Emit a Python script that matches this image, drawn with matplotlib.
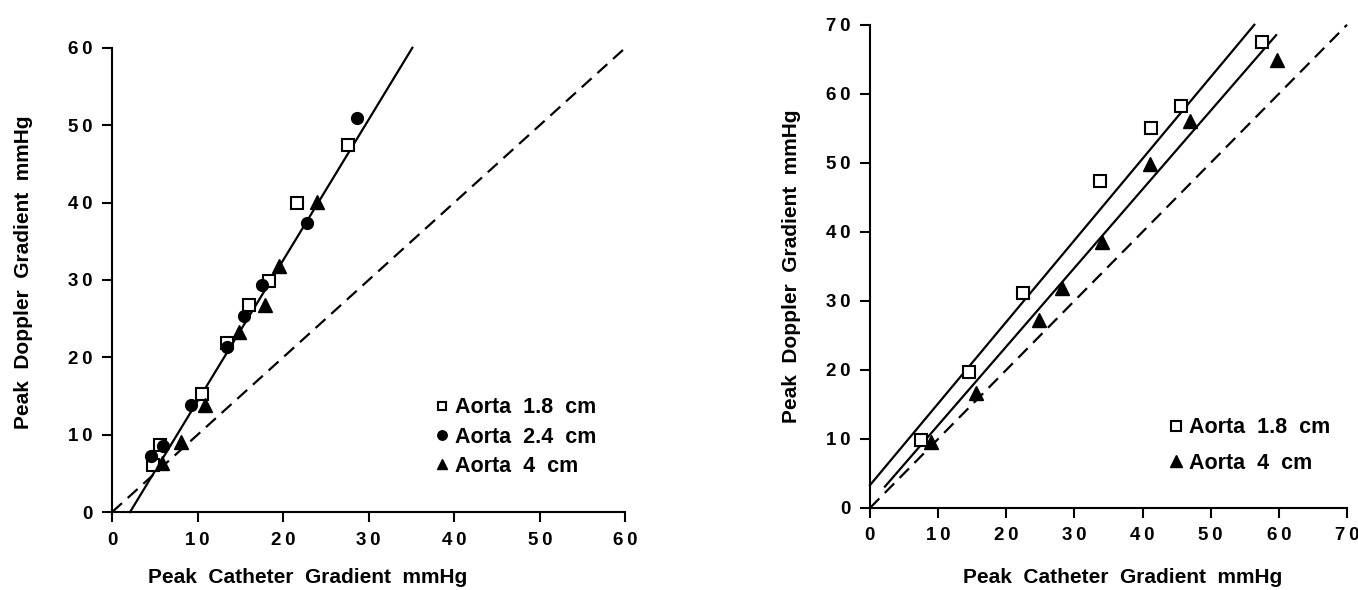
import numpy as np
import matplotlib.pyplot as plt

plt.rcParams['font.family'] = ['Liberation Sans', 'DejaVu Sans']
plt.rcParams['font.weight'] = 'bold'

# left panel data (Peak Catheter vs Peak Doppler gradient)
sq1_x = [4.8, 5.6, 10.5, 13.4, 16.0, 18.4, 21.6, 27.6]
sq1_y = [6.1, 8.7, 15.2, 21.8, 26.8, 29.9, 40.0, 47.5]
ci1_x = [4.6, 6.0, 9.2, 13.4, 15.4, 17.5, 22.8, 28.6]
ci1_y = [7.2, 8.5, 13.9, 21.3, 25.4, 29.4, 37.3, 50.9]
tr1_x = [5.8, 8.1, 10.9, 14.8, 17.9, 19.5, 23.9]
tr1_y = [6.3, 9.1, 13.9, 23.3, 26.7, 31.8, 40.1]
fit1_x = [2.1, 35.1]
fit1_y = [0.0, 60.0]

# right panel data
sq2_x = [7.5, 14.6, 22.4, 33.7, 41.3, 45.7, 57.5]
sq2_y = [9.9, 19.7, 31.1, 47.4, 55.1, 58.3, 67.5]
tr2_x = [9.0, 15.6, 24.8, 28.2, 34.0, 41.1, 46.9, 59.7]
tr2_y = [9.6, 16.7, 27.2, 31.8, 38.6, 49.9, 56.0, 64.9]
fit2a_x = [0.0, 56.4]
fit2a_y = [3.3, 70.0]
fit2b_x = [2.2, 59.6]
fit2b_y = [3.1, 68.5]

fig = plt.figure(figsize=(13.58, 5.9), dpi=100)
ax1 = fig.add_axes([0.0825, 0.132, 0.378, 0.787])
ax2 = fig.add_axes([0.6406, 0.139, 0.3513, 0.819])

dash = (0, (6, 3.5))

def style(ax, lim, xlpad, ylpad, xlx, yly):
    ticks = list(range(0, lim + 1, 10))
    labels = ['\u2009'.join(str(t)) for t in ticks]
    ax.set_xlim(0, lim)
    ax.set_ylim(0, lim)
    ax.set_xticks(ticks, labels)
    ax.set_yticks(ticks, labels)
    for s in ['top', 'right']:
        ax.spines[s].set_visible(False)
    for s in ['left', 'bottom']:
        ax.spines[s].set_linewidth(1.5)
    ax.tick_params(direction='out', length=7, width=1.5, labelsize=13.5, pad=7)
    for lab in ax.get_xticklabels() + ax.get_yticklabels():
        lab.set_fontweight('bold')
    ax.set_xlabel('Peak  Catheter  Gradient  mmHg', fontsize=15, fontweight='bold',
                  labelpad=xlpad, x=xlx)
    ax.set_ylabel('Peak  Doppler  Gradient  mmHg', fontsize=15, fontweight='bold',
                  labelpad=ylpad, y=yly)

leg_kw = dict(loc='upper left', frameon=False, handletextpad=0.0, handlelength=1.2,
              borderpad=0, borderaxespad=0, markerscale=0.8,
              prop={'weight': 'bold', 'size': 15.5})

# left
ax1.plot([0, 60], [0, 60], color='black', lw=1.6, linestyle=dash, clip_on=False)
ax1.plot(fit1_x, fit1_y, color='black', lw=1.6, clip_on=False)
ax1.plot(sq1_x, sq1_y, 's', ms=8, mfc='white', mec='black', mew=1.5, linestyle='none', label='Aorta  1.8  cm')
ax1.plot(ci1_x, ci1_y, 'o', ms=8.5, color='black', linestyle='none', label='Aorta  2.4  cm')
ax1.plot(tr1_x, tr1_y, '^', ms=9.5, color='black', linestyle='none', label='Aorta  4  cm')
style(ax1, 60, 14, 25, 0.382, 0.517)
ax1.legend(bbox_to_anchor=(0.618, 0.247), labelspacing=0.38, **leg_kw)

# right
ax2.plot([0, 70], [0, 70], color='black', lw=1.6, linestyle=dash, clip_on=False)
ax2.plot(fit2a_x, fit2a_y, color='black', lw=1.6, clip_on=False)
ax2.plot(fit2b_x, fit2b_y, color='black', lw=1.6, clip_on=False)
ax2.plot(sq2_x, sq2_y, 's', ms=8, mfc='white', mec='black', mew=1.5, linestyle='none', label='Aorta  1.8  cm')
ax2.plot(tr2_x, tr2_y, '^', ms=9.5, color='black', linestyle='none', label='Aorta  4  cm')
style(ax2, 70, 17, 18, 0.53, 0.5)
ax2.legend(bbox_to_anchor=(0.614, 0.188), labelspacing=0.67, markerscale=0.9,
           **{k: v for k, v in leg_kw.items() if k != 'markerscale'})

fig.savefig('out.png', dpi=100)
